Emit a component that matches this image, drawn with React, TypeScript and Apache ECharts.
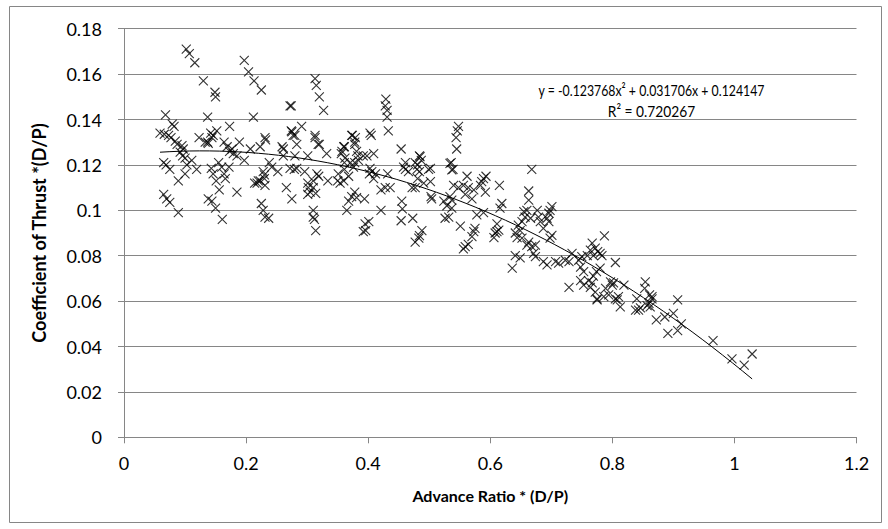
import React, { useEffect, useRef } from "react";
import * as echarts from "echarts";

// Advance ratio (x) and thrust coefficient (y) pairs
const points: [number, number][] = [
  [0.102,0.171],[0.107,0.169],[0.116,0.165],[0.130,0.157],[0.149,0.152],[0.150,0.150],[0.137,0.141],
  [0.197,0.166],[0.204,0.161],[0.213,0.157],[0.225,0.153],[0.212,0.141],
  [0.272,0.146],[0.274,0.146],
  [0.313,0.158],[0.315,0.155],[0.320,0.150],[0.327,0.144],
  [0.068,0.142],[0.079,0.138],[0.082,0.137],[0.173,0.137],[0.291,0.137],[0.274,0.135],[0.277,0.133],
  [0.152,0.135],[0.142,0.134],[0.123,0.132],[0.137,0.130],[0.231,0.132],[0.232,0.131],
  [0.313,0.132],[0.320,0.129],[0.332,0.125],[0.283,0.129],[0.259,0.128],[0.261,0.127],
  [0.356,0.125],[0.360,0.128],[0.374,0.133],[0.379,0.132],
  [0.059,0.134],[0.066,0.1335],[0.073,0.133],[0.077,0.132],[0.084,0.1305],[0.087,0.129],[0.095,0.1285],[0.097,0.127],[0.092,0.1256],[0.096,0.124],[0.100,0.123],
  [0.133,0.130],[0.138,0.1295],[0.144,0.132],[0.146,0.133],
  [0.164,0.130],[0.169,0.128],[0.177,0.127],[0.173,0.126],[0.179,0.125],[0.185,0.124],
  [0.189,0.130],[0.207,0.127],[0.223,0.128],[0.197,0.122],
  [0.280,0.133],[0.275,0.1346],[0.261,0.124],[0.280,0.124],
  [0.065,0.121],[0.069,0.120],[0.075,0.118],[0.089,0.113],[0.100,0.116],[0.103,0.120],[0.111,0.122],[0.119,0.118],
  [0.143,0.1185],[0.146,0.116],[0.151,0.113],[0.156,0.109],[0.155,0.121],[0.160,0.119],[0.164,0.116],[0.166,0.114],[0.172,0.119],
  [0.185,0.108],
  [0.214,0.112],[0.223,0.113],[0.228,0.117],[0.230,0.1156],[0.230,0.114],[0.231,0.111],
  [0.252,0.117],[0.266,0.110],[0.275,0.105],[0.272,0.1185],[0.279,0.118],
  [0.065,0.107],[0.070,0.105],[0.075,0.1035],[0.089,0.099],
  [0.138,0.105],[0.144,0.104],[0.150,0.101],[0.161,0.096],
  [0.225,0.103],[0.228,0.100],[0.231,0.097],[0.237,0.0965],
  [0.242,0.119],[0.238,0.121],[0.218,0.112],[0.220,0.113],
  [0.296,0.117],[0.283,0.1185],
  [0.313,0.133],[0.318,0.129],[0.301,0.124],
  [0.373,0.133],[0.378,0.130],[0.378,0.129],[0.381,0.126],[0.383,0.124],[0.384,0.122],[0.378,0.121],[0.362,0.123],[0.357,0.126],[0.361,0.128],
  [0.403,0.134],[0.405,0.133],
  [0.392,0.124],[0.398,0.124],[0.409,0.125],
  [0.403,0.1185],[0.402,0.116],[0.406,0.117],[0.412,0.116],[0.409,0.114],
  [0.361,0.121],[0.361,0.118],[0.351,0.116],[0.350,0.113],[0.334,0.113],
  [0.316,0.116],[0.319,0.115],[0.310,0.113],[0.301,0.112],[0.302,0.110],[0.310,0.110],[0.314,0.1075],[0.305,0.108],[0.301,0.107],
  [0.378,0.108],[0.373,0.106],[0.381,0.1056],[0.394,0.105],[0.368,0.104],[0.365,0.100],
  [0.421,0.109],[0.428,0.110],[0.436,0.110],[0.421,0.100],[0.432,0.116],
  [0.429,0.149],[0.428,0.146],[0.431,0.144],[0.431,0.141],[0.433,0.135],
  [0.360,0.113],[0.354,0.112],[0.368,0.115],[0.371,0.121],[0.376,0.119],
  [0.310,0.100],[0.310,0.097],[0.312,0.096],[0.314,0.091],
  [0.395,0.094],[0.396,0.091],[0.392,0.0906],[0.401,0.095],
  [0.477,0.086],[0.483,0.0877],[0.488,0.091],[0.484,0.0888],
  [0.454,0.127],[0.461,0.121],[0.458,0.119],[0.461,0.118],[0.466,0.117],[0.480,0.118],[0.484,0.124],[0.487,0.122],[0.481,0.120],[0.484,0.117],[0.481,0.114],[0.477,0.110],[0.491,0.112],[0.499,0.118],[0.502,0.1126],[0.503,0.106],[0.504,0.105],
  [0.455,0.104],[0.456,0.1006],[0.454,0.0954],[0.473,0.0965],
  [0.477,0.121],[0.485,0.1236],[0.502,0.1185],[0.472,0.110],
  [0.524,0.104],[0.526,0.0965],
  [0.548,0.137],[0.546,0.135],[0.544,0.132],[0.545,0.127],[0.536,0.121],[0.539,0.118],
  [0.668,0.118],
  [0.540,0.111],[0.548,0.110],[0.556,0.111],[0.562,0.115],[0.564,0.110],[0.573,0.109],[0.584,0.111],[0.589,0.114],[0.593,0.115],[0.586,0.1126],[0.592,0.108],[0.570,0.105],[0.559,0.107],[0.534,0.106],[0.537,0.1045],
  [0.615,0.111],[0.619,0.103],[0.616,0.101],
  [0.532,0.097],[0.529,0.102],[0.537,0.101],
  [0.578,0.098],[0.551,0.093],[0.589,0.099],
  [0.573,0.0906],[0.575,0.092],[0.570,0.0884],[0.559,0.084],[0.556,0.083],[0.564,0.085],
  [0.608,0.090],[0.611,0.0906],[0.614,0.0913],[0.606,0.088],[0.611,0.094],
  [0.534,0.1207],[0.537,0.1178],
  [0.663,0.1085],[0.663,0.1045],[0.660,0.100],[0.655,0.0994],[0.657,0.097],[0.666,0.0965],[0.652,0.095],[0.646,0.0935],[0.649,0.091],[0.641,0.090],[0.644,0.088],[0.652,0.0877],
  [0.677,0.100],[0.679,0.097],[0.682,0.095],[0.687,0.092],[0.696,0.0987],[0.698,0.100],[0.701,0.1016],[0.693,0.0965],[0.696,0.095],[0.701,0.089],[0.698,0.0877],
  [0.663,0.086],[0.668,0.084],[0.674,0.0847],[0.660,0.0847],[0.671,0.081],[0.674,0.0796],
  [0.641,0.080],[0.649,0.079],[0.636,0.0745],
  [0.687,0.0774],[0.693,0.076],[0.707,0.0774],[0.712,0.0767],[0.723,0.078],[0.729,0.0774],[0.734,0.081],[0.745,0.078],[0.750,0.0796],[0.759,0.080],[0.748,0.075],[0.753,0.073],
  [0.729,0.066],[0.748,0.069],[0.753,0.067],[0.761,0.069],[0.764,0.066],[0.772,0.064],[0.775,0.0605],
  [0.787,0.0887],[0.767,0.0855],[0.772,0.0833],[0.776,0.0818],[0.780,0.081],[0.783,0.080],[0.769,0.080],[0.764,0.0825],
  [0.805,0.077],
  [0.780,0.0745],[0.774,0.073],[0.769,0.071],[0.767,0.068],
  [0.797,0.0685],[0.800,0.067],[0.802,0.068],[0.819,0.067],[0.789,0.0656],[0.794,0.0627],[0.786,0.062],[0.775,0.061],[0.805,0.061],[0.810,0.062],[0.813,0.0575],[0.808,0.0605],
  [0.854,0.0685],[0.853,0.0656],[0.861,0.0627],[0.865,0.061],[0.860,0.059],[0.840,0.061],[0.838,0.056],[0.843,0.056],[0.846,0.057],[0.857,0.058],[0.862,0.0575],[0.865,0.062],
  [0.907,0.0605],
  [0.872,0.0517],[0.886,0.053],[0.900,0.0546],[0.891,0.0458],[0.907,0.047],[0.913,0.050],
  [0.965,0.0426],
  [0.996,0.0345],[1.016,0.0318],[1.029,0.0367],
];

// Polynomial trendline coefficients shown on the chart: a*x^2 + b*x + c
const trendCoefficients = [-0.123768, 0.031706, 0.124147];
const rSquared = "0.720267";

const xAxisTitle = "Advance Ratio * (D/P)";
const yAxisTitle = "Coefficient of Thrust *(D/P)";

const FONT = "Lato, 'Open Sans', sans-serif";
const GRAY = "#868686";

export default function App() {
  const ref = useRef<HTMLDivElement>(null);
  useEffect(() => {
    if (!ref.current) return;
    const chart = echarts.init(ref.current, null, { renderer: "svg" });
    const [a, b, c] = trendCoefficients;
    const xs = points.map((p) => p[0]);
    const x0 = Math.min(...xs);
    const x1 = Math.max(...xs);
    const steps = 60;
    const trend: [number, number][] = [];
    for (let i = 0; i <= steps; i++) {
      const x = x0 + ((x1 - x0) * i) / steps;
      trend.push([x, a * x * x + b * x + c]);
    }
    const eq = `y = ${a}x² + ${b}x + ${c}`;
    const fmt = (v: number) => String(+v.toFixed(2));
    chart.setOption({
      animation: false,
      backgroundColor: "#fff",
      textStyle: { fontFamily: FONT },
      grid: { left: 124, right: 31.5, top: 28.7, bottom: 91.7 },
      xAxis: {
        type: "value",
        min: 0,
        max: 1.2,
        interval: 0.2,
        name: xAxisTitle,
        nameLocation: "middle",
        nameGap: 50,
        nameTextStyle: { fontFamily: FONT, fontSize: 16, fontWeight: "bold", color: "#000" },
        axisLine: { show: true, onZero: false, lineStyle: { color: GRAY, width: 1 } },
        axisTick: { show: true, length: 6, lineStyle: { color: GRAY } },
        axisLabel: { fontFamily: FONT, fontSize: 18, color: "#000", margin: 17, formatter: fmt },
        splitLine: { show: false },
      },
      yAxis: {
        type: "value",
        min: 0,
        max: 0.18,
        interval: 0.02,
        name: yAxisTitle,
        nameLocation: "middle",
        nameGap: 76,
        nameTextStyle: { fontFamily: FONT, fontSize: 18, fontWeight: "bold", color: "#000" },
        axisLine: { show: true, lineStyle: { color: GRAY, width: 1 } },
        axisTick: { show: true, length: 6, lineStyle: { color: GRAY } },
        axisLabel: { fontFamily: FONT, fontSize: 18, color: "#000", margin: 22, formatter: fmt },
        splitLine: { show: true, lineStyle: { color: GRAY, width: 1 } },
      },
      graphic: [
        {
          type: "rect",
          shape: { x: 9.5, y: 6.5, width: 872, height: 516 },
          style: { fill: "none", stroke: GRAY, lineWidth: 1 },
          silent: true,
        },
        {
          type: "text",
          x: 651.5,
          y: 90,
          scaleX: 0.77,
          style: { text: eq, fontFamily: FONT, fontSize: 16, fill: "#000", textAlign: "center", textVerticalAlign: "middle" },
        },
        {
          type: "text",
          x: 651.5,
          y: 111,
          scaleX: 0.86,
          style: { text: `R² = ${rSquared}`, fontFamily: FONT, fontSize: 16, fill: "#000", textAlign: "center", textVerticalAlign: "middle" },
        },
      ],
      series: [
        {
          type: "scatter",
          data: points,
          symbol: "path://M0,0L10,10M10,0L0,10",
          symbolSize: 9,
          itemStyle: { color: "transparent", borderColor: "#000", borderWidth: 1.1 },
          z: 3,
        },
        {
          type: "line",
          data: trend,
          showSymbol: false,
          symbol: "none",
          lineStyle: { color: "#000", width: 1 },
          z: 4,
        },
      ],
    });
    return () => chart.dispose();
  }, []);
  return <div ref={ref} style={{ position: "fixed", left: 0, top: 0, width: 888, height: 529 }} />;
}
